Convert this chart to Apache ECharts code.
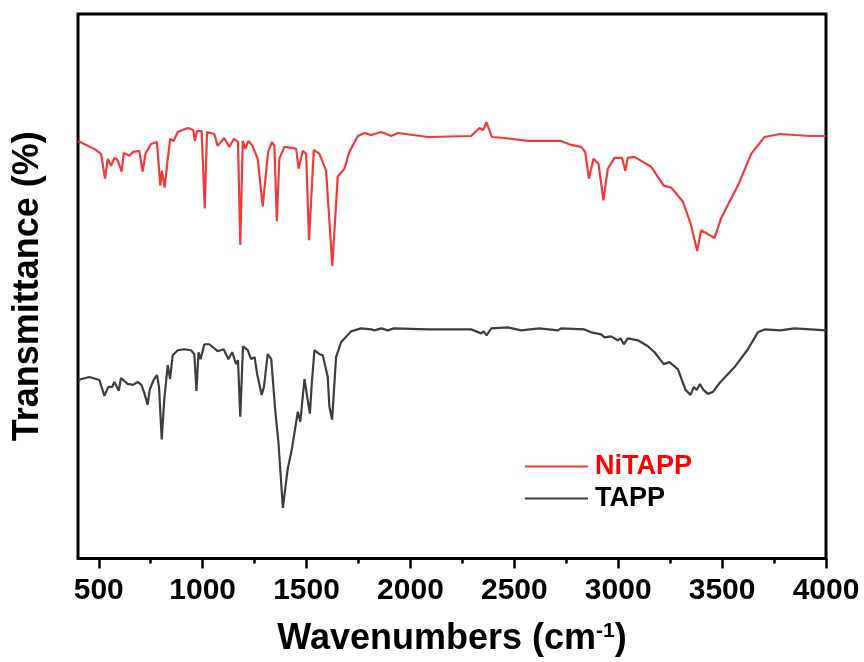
<!DOCTYPE html>
<html>
<head>
<meta charset="utf-8">
<script src="https://cdn.jsdelivr.net/npm/echarts@6/dist/echarts.min.js"></script>
<style>
html,body{margin:0;padding:0;background:#fff;}
#ftirChart{width:864px;height:662px;}
</style>
</head>
<body>
<div id="ftirChart"></div>
<script>
// NiTAPP spectrum (wavenumber, transmittance in arbitrary offset units)
var niWavenumbers = [400,430,478,511,530,543,559,575,590,610,620,647,665,695,711,725,751,780,796,804,817,832,844,860,880,928,955,963,973,995,1010,1021,1056,1072,1104,1128,1150,1170,1181,1193,1205,1220,1240,1265,1289,1315,1334,1345,1357,1369,1393,1430,1450,1462,1482,1498,1512,1535,1562,1594,1624,1650,1682,1706,1747,1779,1811,1859,1907,1940,2084,2292,2332,2350,2366,2392,2450,2565,2725,2774,2822,2841,2859,2881,2905,2929,2950,2982,3018,3034,3046,3078,3158,3219,3255,3311,3351,3380,3399,3432,3463,3495,3576,3640,3704,3780,3849,3925,4000];
var niTrans = [421,418,413,408,383,403,396,404,402,390,409,406,410,411,390,408,418,420,376,391,374,403,423,421,430,434,432,421,431,431,353,430,428,416,424,415,423,420,316,421,413,421,416,403,355,410,420,416,340,403,415,414,413,393,411,408,321,412,408,391,295,385,393,410,426,429,427,430,426,429,425,426,434,432,440,425,424,421,421,417,415,410,383,403,398,361,393,404,404,391,404,405,395,376,374,360,336,310,331,327,323,343,376,408,425,428,427,426,426];

// TAPP spectrum
var tappWavenumbers = [400,406,454,503,527,546,565,575,596,607,639,665,687,705,719,735,745,764,780,790,803,815,832,843,856,880,912,944,960,970,980,990,1008,1032,1072,1101,1124,1142,1161,1170,1181,1194,1217,1233,1250,1262,1284,1295,1313,1330,1349,1365,1386,1409,1429,1458,1470,1490,1503,1516,1525,1538,1562,1578,1602,1610,1623,1642,1666,1714,1762,1811,1827,1860,1891,1920,2084,2292,2340,2352,2366,2389,2469,2533,2620,2710,2725,2838,2870,2918,2934,2965,2998,3011,3027,3046,3095,3143,3175,3219,3246,3287,3324,3348,3364,3378,3393,3410,3432,3456,3488,3560,3624,3672,3704,3780,3849,3925,4000];
var tappTrans = [180,178,183,180,164,173,173,178,169,182,176,175,178,175,167,155,170,180,185,173,120,160,195,181,205,210,211,210,206,169,208,201,216,216,209,211,201,208,196,200,143,214,210,201,203,186,165,173,206,201,150,116,51,90,110,148,138,181,163,146,176,210,206,205,183,153,140,203,218,229,232,231,230,232,230,232,231,231,227,229,225,232,233,230,232,230,232,231,228,226,223,224,220,222,216,222,220,214,208,196,198,191,170,165,173,170,176,170,166,168,177,193,211,228,231,230,232,231,230];

var majorTicks = [500,1000,1500,2000,2500,3000,3500,4000];
var minorTicks = [750,1250,1750,2250,2750,3250,3750];

var seriesNames = ['NiTAPP','TAPP'];
var redLine = '#f03a3a';
var greyLine = '#3d3d3d';
var boldFont = 'Liberation Sans, Arial';

function pairUp(xs, ys){
    var out = [];
    for (var i = 0; i < xs.length; i++) out.push([xs[i], ys[i]]);
    return out;
}

var myChart = echarts.init(document.getElementById('ftirChart'));
myChart.setOption({
    animation: false,
    grid: {
        left: 78, right: 38, top: 14, bottom: 99,
        show: true,
        borderColor: '#000',
        borderWidth: 3
    },
    legend: {
        orient: 'vertical',
        left: 520,
        top: 448,
        icon: 'rect',
        itemWidth: 63,
        itemHeight: 2,
        itemGap: 5,
        data: [
            {name: 'NiTAPP', textStyle: {color: '#ff0000'}},
            {name: 'TAPP', textStyle: {color: '#000'}}
        ],
        textStyle: {
            fontFamily: boldFont,
            fontWeight: 'bold',
            fontSize: 27,
            padding: [0, 0, 0, 2]
        }
    },
    xAxis: [
        {
            type: 'value',
            min: 400,
            max: 4000,
            position: 'bottom',
            axisLine: {show: false},
            splitLine: {show: false},
            axisTick: {
                show: true,
                customValues: majorTicks,
                length: 10,
                lineStyle: {color: '#000', width: 2.5}
            },
            axisLabel: {
                customValues: majorTicks,
                formatter: function(v){ return String(v); },
                margin: 17,
                color: '#000',
                fontFamily: boldFont,
                fontWeight: 'bold',
                fontSize: 30
            },
            name: '{a|Wavenumbers (cm}{s|-1}{a|)}',
            nameLocation: 'middle',
            nameGap: 62,
            nameTextStyle: {
                rich: {
                    a: {fontFamily: boldFont, fontWeight: 'bold', fontSize: 36, color: '#000'},
                    s: {fontFamily: boldFont, fontWeight: 'bold', fontSize: 21, color: '#000', verticalAlign: 'top', padding: [0, 0, 16, 0]}
                }
            }
        },
        {
            type: 'value',
            min: 400,
            max: 4000,
            position: 'bottom',
            axisLine: {show: false},
            splitLine: {show: false},
            axisLabel: {show: false},
            axisTick: {
                show: true,
                customValues: minorTicks,
                length: 5,
                lineStyle: {color: '#000', width: 2.5}
            }
        }
    ],
    yAxis: {
        type: 'value',
        min: 0,
        max: 549,
        axisLine: {show: false},
        axisTick: {show: false},
        axisLabel: {show: false},
        splitLine: {show: false},
        name: 'Transmittance (%)',
        nameLocation: 'middle',
        nameGap: 32,
        nameTextStyle: {
            fontFamily: boldFont,
            fontWeight: 'bold',
            fontSize: 36,
            color: '#000'
        }
    },
    series: [
        {
            name: seriesNames[0],
            type: 'line',
            xAxisIndex: 0,
            symbol: 'none',
            data: pairUp(niWavenumbers, niTrans),
            lineStyle: {color: redLine, width: 2.2},
            itemStyle: {color: redLine}
        },
        {
            name: seriesNames[1],
            type: 'line',
            xAxisIndex: 0,
            symbol: 'none',
            data: pairUp(tappWavenumbers, tappTrans),
            lineStyle: {color: greyLine, width: 2.2},
            itemStyle: {color: greyLine}
        }
    ]
});
</script>
</body>
</html>
